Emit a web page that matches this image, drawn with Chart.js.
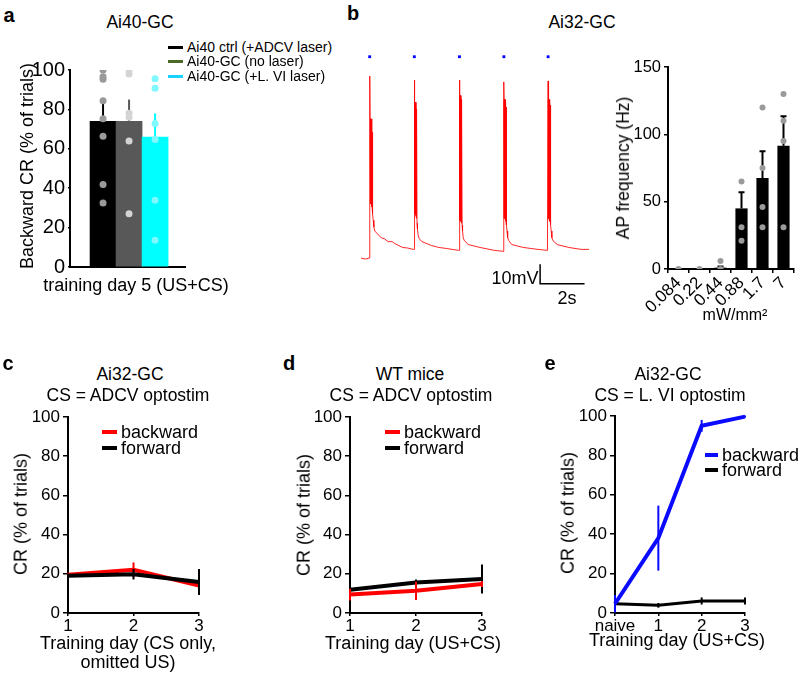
<!DOCTYPE html>
<html>
<head>
<meta charset="utf-8">
<script src="https://cdn.jsdelivr.net/npm/chart.js@4.4.0/dist/chart.umd.min.js"></script>
<style>
  body { margin: 0; background: #fff; }
  #fig { position: relative; width: 800px; height: 676px; overflow: hidden; font-family: "Liberation Sans", Arial, sans-serif; color: #000; }
  #fig canvas { position: absolute; }
  .t { position: absolute; white-space: nowrap; transform: translate(-50%, -50%); line-height: 1.15; }
  .lg { position: absolute; white-space: nowrap; line-height: 1; transform: translateY(-50%); }
</style>
</head>
<body>
<div id="fig"></div>
<script>
// panel a - backward CR on day 5
const aGroups = ['Ai40 ctrl (+ADCV laser)', 'Ai40-GC (no laser)', 'Ai40-GC (+L. VI laser)'];
const aMeans = [74, 74, 66];
const aErr = [9, 11, 12];
const aDotsCtrl = [100, 96.6, 95.3, 84.4, 75.3, 66.4, 41.9, 32.5];
const aDotsNoLaser = [100, 98, 78, 76, 64, 27];
const aDotsLVI = [95.6, 90.7, 72.9, 64.7, 33.9, 13.6];

// panel b - membrane potential trace (s, mV)
const traceT = [0, 0.2, 0.37, 0.39,
  0.40, 0.41, 0.42, 0.43, 0.44, 0.45, 0.46, 0.47, 0.48, 0.49, 0.50, 0.51, 0.52, 0.53, 0.55, 0.58, 0.62, 0.70, 0.91, 1.05, 1.22, 1.40, 1.52, 1.87, 2.10, 2.35, 2.39,
  2.40, 2.41, 2.42, 2.43, 2.44, 2.45, 2.46, 2.47, 2.48, 2.49, 2.50, 2.51, 2.52, 2.54, 2.57, 2.62, 2.74, 3.17, 3.50, 3.83, 4.10, 4.39, 4.42,
  4.43, 4.44, 4.45, 4.46, 4.47, 4.48, 4.49, 4.50, 4.51, 4.52, 4.53, 4.54, 4.55, 4.57, 4.60, 4.65, 4.83, 5.35, 6.0, 6.39, 6.42,
  6.43, 6.44, 6.45, 6.46, 6.47, 6.48, 6.49, 6.50, 6.51, 6.52, 6.53, 6.54, 6.55, 6.57, 6.60, 6.65, 6.78, 7.30, 7.96, 8.39, 8.41,
  8.42, 8.43, 8.44, 8.45, 8.46, 8.47, 8.48, 8.49, 8.50, 8.51, 8.52, 8.53, 8.54, 8.56, 8.59, 8.64, 8.83, 9.35, 9.91, 10.26];
const traceV = [-70, -70.5, -70, -70,
  24, 2, -42, 0.5, -42, -2, -43, -3, -43.5, -4, -44, -5, -45, -47, -50.5, -54, -56, -57, -59.5, -60, -61.5, -61.5, -62.5, -64.5, -64.8, -65.5, -65.5,
  22, 10.5, -47, 10.5, -47, 8, -48, 8, -49, 7, -49.5, 6, -52, -55, -58, -60, -61.5, -63.5, -64.5, -65, -65.5, -66, -66,
  22, 14, -50.5, 14, -50.5, 12, -51, 12, -51.5, 11, -52, 10, -53, -56, -59.5, -61, -63, -64.5, -66, -66.5, -66.5,
  21, 12, -49.5, 12, -49.5, 10.5, -50, 10, -51, 9, -52, 8, -53, -56, -59.5, -61, -63, -64.5, -65.5, -66, -66,
  21.5, 12, -49.5, 12, -49.5, 10.5, -50, 10, -51, 9, -52, 8, -53, -56, -59.5, -61, -63, -64.5, -65.5, -65.5];
// dense burst after each spike (drawn as a solid band)
const burstT = [0.457, 2.45, 4.47, 6.47, 8.46];
const burstTop = [2, 10.5, 14, 12, 12];
const burstBottom = [-42, -47, -50.5, -49.5, -49.5];
const stimT = [0.39, 2.40, 4.43, 6.43, 8.42];
const stimV = 34;
const scaleBarT = [8.06, 8.06, 10.06];
const scaleBarV = [-73.2, -83.2, -83.2];

// panel b - AP frequency vs light power
const powerLabels = ['0.084', '0.22', '0.44', '0.88', '1.7', '7'];
const apMeans = [0, 0, 1, 45, 67.5, 91.5];
const apErr = [0, 0, 0.8, 12, 20, 22];
const apDots = [[0], [0], [0, 6], [65, 31, 21], [120, 75, 46, 31], [130, 110, 95, 31]];

// panels c, d, e - CR over training days
const dayLabels = ['1', '2', '3'];
const cBackward = [19.5, 22, 14];
const cBackErr = [1, 3.8, 2];
const cForward = [19, 19.8, 15.8];
const cFwdErr = [1, 2.7, 6.6];
const dBackward = [9.4, 11.3, 14.8];
const dBackErr = [3, 4.7, 1.5];
const dForward = [11.9, 15.6, 17.3];
const dFwdErr = [1.5, 1.5, 7.4];
const eLabels = ['naive', '1', '2', '3'];
const eBackward = [4.7, 38, 95, 99.7];
const eBackErr = [4.5, 16.5, 3, 0.5];
const eForward = [4.7, 3.9, 6.1, 6.1];
const eFwdErr = [1, 1.2, 1.8, 1.8];

const fig = document.getElementById('fig');
Chart.defaults.font.family = '"Liberation Sans", Arial, sans-serif';
Chart.defaults.color = '#000';

// error bars drawn right after each dataset, through the y scale
const errorBars = {
  id: 'errorBars',
  afterDatasetDraw(chart, args) {
    const ds = chart.data.datasets[args.index];
    if (!ds.err) return;
    const ctx = chart.ctx;
    const y = chart.scales.y;
    ctx.save();
    ctx.lineWidth = ds.errWidth || 2;
    args.meta.data.forEach((el, i) => {
      const raw = ds.data[i];
      const v = typeof raw === 'object' ? raw.y : raw;
      const e = ds.err[i];
      if (!e) return;
      ctx.strokeStyle = Array.isArray(ds.errColor) ? ds.errColor[i] : (ds.errColor || ds.borderColor);
      const top = y.getPixelForValue(v + e);
      const bot = y.getPixelForValue(ds.errUpOnly ? v : v - e);
      ctx.beginPath();
      ctx.moveTo(el.x, top);
      ctx.lineTo(el.x, bot);
      if (ds.errCap) {
        ctx.moveTo(el.x - ds.errCap, top);
        ctx.lineTo(el.x + ds.errCap, top);
      }
      ctx.stroke();
    });
    ctx.restore();
  }
};
Chart.register(errorBars);

// puts a canvas so that its plot area lands on box = [left, top, right, bottom]
function mkChart(box, yW, xH, padT, padR, config) {
  const c = document.createElement('canvas');
  const w = yW + box[2] - box[0] + padR;
  const h = padT + box[3] - box[1] + xH;
  c.width = w; c.height = h;
  c.style.left = (box[0] - yW) + 'px';
  c.style.top = (box[1] - padT) + 'px';
  c.style.width = w + 'px';
  c.style.height = h + 'px';
  fig.appendChild(c);
  const o = config.options;
  o.responsive = false;
  o.animation = false;
  o.devicePixelRatio = 1;
  o.layout = { padding: { top: padT, right: padR, left: 0, bottom: 0 } };
  o.plugins = { legend: { display: false }, tooltip: { enabled: false } };
  o.scales.x.afterFit = s => { s.height = xH; };
  o.scales.y.afterFit = s => { s.width = yW; };
  return new Chart(c, config);
}

function yAxis(max, step, size, tick) {
  return {
    min: 0, max: max,
    ticks: { stepSize: step, font: { size: size }, color: '#000', padding: 3 },
    grid: { drawOnChartArea: false, tickLength: tick, color: '#000', lineWidth: 1.5 },
    border: { color: '#000', width: 2 }
  };
}

function txt(s, x, y, size, extra) {
  const d = document.createElement('div');
  d.className = 't';
  d.textContent = s;
  d.style.left = x + 'px';
  d.style.top = y + 'px';
  d.style.fontSize = size + 'px';
  if (extra) Object.assign(d.style, extra);
  fig.appendChild(d);
}
const rot = { transform: 'translate(-50%, -50%) rotate(-90deg)' };
const bold = { fontWeight: 'bold' };

function key(x, y, color, s, size, len, thick) {
  const ln = document.createElement('div');
  ln.style.cssText = `position:absolute;left:${x}px;top:${y - thick / 2}px;width:${len}px;height:${thick}px;background:${color}`;
  fig.appendChild(ln);
  const d = document.createElement('div');
  d.className = 'lg';
  d.textContent = s;
  d.style.left = (x + len + 4) + 'px';
  d.style.top = y + 'px';
  d.style.fontSize = size + 'px';
  fig.appendChild(d);
}

// ---------- panel a ----------
const aColors = ['#000000', '#585858', '#00ffff'];
const aDotColors = ['#9a9a9a', '#d4d4d4', '#7ff8ff'];
const aDots = [aDotsCtrl, aDotsNoLaser, aDotsLVI];
mkChart([70, 70, 185, 267], 70, 30, 15, 10, {
  type: 'bar',
  data: {
    datasets: [
      ...aDots.map((arr, g) => ({
        type: 'scatter', order: 0,
        data: arr.map(v => ({ x: g, y: v })),
        backgroundColor: aDotColors[g], borderWidth: 0, pointRadius: 3.5
      })),
      {
        type: 'bar', order: 1,
        data: aMeans.map((m, g) => ({ x: g, y: m })),
        backgroundColor: aColors, barThickness: 26,
        err: aErr, errUpOnly: true, errColor: aColors, errWidth: 2
      }
    ]
  },
  options: {
    scales: {
      x: {
        type: 'linear', min: -1.27, max: 3.15, offset: false,
        ticks: { display: false, stepSize: 1 }, grid: { display: false, offset: false },
        border: { color: '#000', width: 2 }
      },
      y: yAxis(100, 20, 20, 2)
    }
  }
});
txt('a', 9, 15, 20, bold);
txt('Ai40-GC', 140, 22, 17.5);
txt('Backward CR (% of trials)', 27, 166, 18, rot);
txt('training day 5 (US+CS)', 136, 285, 18);
key(168, 47, aColors[0], aGroups[0], 14, 15, 3);
key(168, 61, '#4b6a2a', aGroups[1], 14, 15, 3);
key(168, 76, '#1ad2ff', aGroups[2], 14, 15, 3);

// ---------- panel b, trace ----------
mkChart([357, 45, 593, 295], 0, 0, 0, 0, {
  type: 'line',
  data: {
    datasets: [
      { data: traceT.map((t, i) => ({ x: t, y: traceV[i] })), borderColor: 'rgba(255,0,0,0.85)', borderWidth: 1, pointRadius: 0 },
      {
        data: burstT.flatMap((t, i) => [{ x: t, y: burstTop[i] }, { x: t, y: burstBottom[i] }, { x: t, y: null }]),
        borderColor: '#ff0000', borderWidth: 2.5, borderCapStyle: 'butt', pointRadius: 0, spanGaps: false
      },
      { data: stimT.map(t => ({ x: t, y: stimV })), showLine: false, pointStyle: 'rect', pointRadius: 2, backgroundColor: '#0000ff', borderWidth: 0 },
      { data: scaleBarT.map((t, i) => ({ x: t, y: scaleBarV[i] })), borderColor: '#000', borderWidth: 1.5, pointRadius: 0 }
    ]
  },
  options: {
    scales: {
      x: { type: 'linear', min: 0, max: 10.26, display: false },
      y: { min: -87, max: 38, display: false }
    }
  }
});
txt('b', 353, 13, 20, bold);
txt('Ai32-GC', 582, 22, 17.5);
txt('10mV', 515, 278, 18);
txt('2s', 567, 298, 18);

// ---------- panel b, AP frequency ----------
mkChart([668, 67, 794, 269], 60, 50, 15, 6, {
  type: 'bar',
  data: {
    labels: powerLabels,
    datasets: [
      {
        type: 'scatter', order: 0,
        data: apDots.flatMap((arr, i) => arr.map(v => ({ x: powerLabels[i], y: v }))),
        backgroundColor: '#9a9a9a', borderWidth: 0, pointRadius: 3
      },
      {
        type: 'bar', order: 1, data: apMeans, backgroundColor: '#000',
        barPercentage: 0.58, categoryPercentage: 1,
        err: apErr, errUpOnly: true, errColor: '#000', errWidth: 2, errCap: 3
      }
    ]
  },
  options: {
    scales: {
      x: {
        type: 'category',
        ticks: { minRotation: 45, maxRotation: 45, autoSkip: false, font: { size: 17 }, color: '#000', padding: 0 },
        grid: { drawOnChartArea: false, tickLength: 4, color: '#000', lineWidth: 1.5 },
        border: { color: '#000', width: 2 }
      },
      y: yAxis(150, 50, 16.5, 4)
    }
  }
});
txt('AP frequency (Hz)', 623, 168, 17.5, rot);
txt('mW/mm²', 735, 315, 16);

// ---------- panels c, d, e ----------
function lineChart(box, labels, sets) {
  return mkChart(box, 60, 30, 15, 25, {
    type: 'line',
    data: {
      labels: labels,
      datasets: sets.map(s => ({
        data: s.data, err: s.err, borderColor: s.color, borderWidth: s.width,
        pointRadius: 0, errWidth: 2, clip: false
      }))
    },
    options: {
      scales: {
        x: {
          type: 'category', offset: false,
          ticks: { font: { size: 17 }, color: '#000', padding: 0, autoSkip: false, maxRotation: 0 },
          grid: { drawOnChartArea: false, tickLength: 3, color: '#000', lineWidth: 1.5 },
          border: { color: '#000', width: 2 }
        },
        y: yAxis(100, 20, 17, 5)
      }
    }
  });
}

lineChart([68, 417, 199, 613], dayLabels, [
  { data: cForward, err: cFwdErr, color: '#000', width: 4 },
  { data: cBackward, err: cBackErr, color: '#ff0000', width: 4 }
]);
txt('c', 8, 363, 20, bold);
txt('Ai32-GC', 130, 374, 17.5);
txt('CS = ADCV optostim', 128, 395, 17.5);
txt('CR (% of trials)', 21, 514, 18, rot);
txt('Training day (CS only,', 128, 643, 18);
txt('omitted US)', 128, 662, 18);
key(102, 432, '#ff0000', 'backward', 18, 15, 4);
key(102, 448, '#000', 'forward', 18, 15, 4);

lineChart([350, 417, 482, 613], dayLabels, [
  { data: dBackward, err: dBackErr, color: '#ff0000', width: 4 },
  { data: dForward, err: dFwdErr, color: '#000', width: 4 }
]);
txt('d', 289, 363, 20, bold);
txt('WT mice', 410, 374, 17.5);
txt('CS = ADCV optostim', 411, 395, 17.5);
txt('CR (% of trials)', 304, 515, 18, rot);
txt('Training day (US+CS)', 413, 643, 18);
key(385, 432, '#ff0000', 'backward', 18, 15, 4);
key(385, 448, '#000', 'forward', 18, 15, 4);

lineChart([615, 416, 745, 613], eLabels, [
  { data: eBackward, err: eBackErr, color: '#0a0aff', width: 4 },
  { data: eForward, err: eFwdErr, color: '#000', width: 3 }
]);
txt('e', 550, 363, 20, bold);
txt('Ai32-GC', 668, 374, 17.5);
txt('CS = L. VI optostim', 670, 395, 17.5);
txt('CR (% of trials)', 568, 513, 18, rot);
txt('Training day (US+CS)', 677, 640, 18);
key(705, 455, '#0a0aff', 'backward', 18, 13, 4);
key(705, 470, '#000', 'forward', 18, 13, 4);
</script>
</body>
</html>
